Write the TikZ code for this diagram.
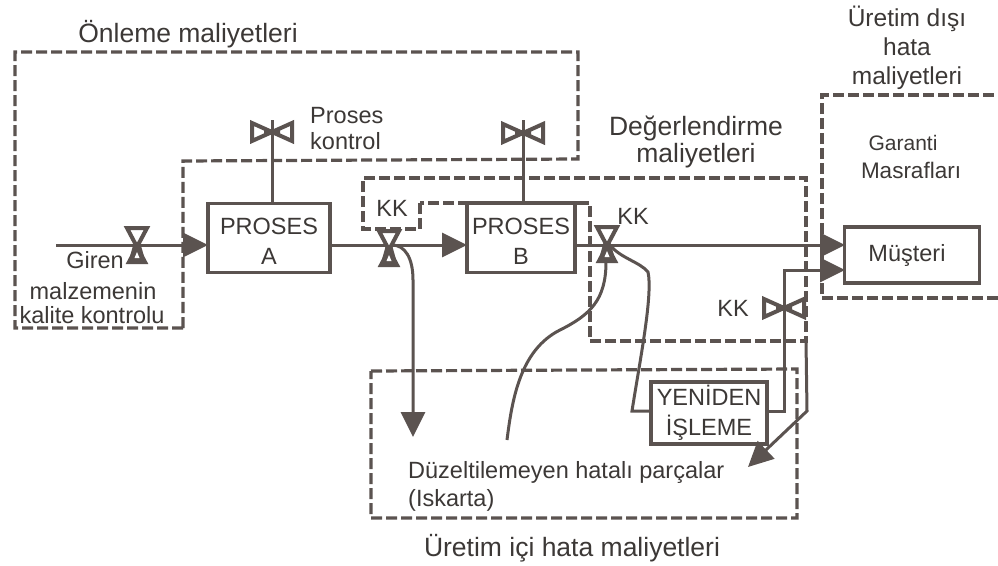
\documentclass[tikz,border=0pt]{standalone}
\usepackage{fontspec}
\setmainfont{Liberation Sans}
\usetikzlibrary{arrows.meta}
\definecolor{ink}{HTML}{5B5350}
\definecolor{txt}{HTML}{3C3836}
\tikzset{
  dashbox/.style={draw=ink,line width=3.2pt,dash pattern=on 11pt off 4pt},
  proc/.style={draw=ink,line width=3.2pt,fill=white,inner sep=0pt,align=center,text=txt,font=\fontsize{23.5}{30}\selectfont},
  wire/.style={draw=ink,line width=3pt},
  arr/.style={wire,-{Triangle[length=25pt,width=24pt]}},
  lbl/.style={text=txt,font=\fontsize{23.5}{27}\selectfont,inner sep=0pt,align=center},
  lblbig/.style={lbl,font=\fontsize{26.5}{27}\selectfont},
  vvalve/.pic={\draw[draw=ink,line width=4pt,fill=white,line join=miter] (-10,-17)--(10,-17)--(-8,17)--(8,17)--cycle;
    \fill[ink] (-3,-3) -- (3,-3) -- (8,15) -- (-8,15)--cycle;
    \fill[white] (0,7) -- (2.5,13) -- (-2.5,13)--cycle;},
  hvalve/.pic={\draw[draw=ink,line width=4pt,fill=white] (-20,-9)--(-20,9)--(20,-9)--(20,9)--cycle;
    \fill[ink] (-8,-5)--(8,5)--(8,-5)--(-8,5)--cycle;}
}
\begin{document}
\begin{tikzpicture}[x=1pt,y=-1pt]
\useasboundingbox (0,0) rectangle (998,565);
% dashed regions
\draw[dashbox] (183,328)--(15,328)--(15,52)--(578,52)--(578,159)--(183,161)--cycle;
\draw[dashbox] (420,203)--(420,229)--(363,229)--(363,178)--(806,178)--(806,341)--(590,341)--(590,203)--cycle;
\draw[dashbox] (371,371)--(797,369)--(797,518)--(371,518)--cycle;
\draw[dashbox] (998,298)--(822,298)--(822,95)--(998,95);
% process boxes
\node[proc,minimum width=122pt,minimum height=69pt] (A) at (269,238) {\rule{0pt}{23pt}PROSES\\A};
\node[proc,minimum width=108pt,minimum height=69pt] (B) at (521,238) {\rule{0pt}{23pt}PROSES\\B};
\node[proc,minimum width=135pt,minimum height=56pt] (M) at (912,255) {Müşteri\hspace*{10pt}};
\node[proc,minimum width=116pt,minimum height=62pt] (Y) at (709,413) {YENİDEN\\İŞLEME};
% anchors
\coordinate (in) at (56,245);
\coordinate (v1) at (137,245);
\coordinate (v2) at (389,248);
\coordinate (v3) at (607,244);
\coordinate (v4) at (784,308);
\coordinate (va) at (272,132);
\coordinate (vb) at (523,133);
\coordinate (ta) at (272,120);
\coordinate (tb) at (523,120);
\coordinate (mb) at (845,245);
\coordinate (mc) at (845,270);
\coordinate (ab) at (467,245);
\coordinate (ain) at (208,245);
\coordinate (sc) at (413,437);
\coordinate (sl) at (507,440);
\coordinate (tip) at (748,467);
% connectors
\draw[wire] (A.north -| ta) -- (ta);
\draw[wire] (B.north -| tb) -- (tb);
\draw[line width=3.4pt,draw=ink] (462,203)--(583,203);
\draw[arr] (in) -- (ain);
\draw[arr] (A.east |- ab) -- (ab);
\draw[arr] (B.east |- mb) -- (mb);
\draw[arr] (392,245) .. controls (405,245) and (413,258) .. (413,280) -- (sc);
\draw[wire] (610,245) .. controls (620,258) and (640,262) .. (648,272)
  .. controls (653,295) and (640,360) .. (632,411) -- (Y.west |- 0,411);
\draw[wire] (606,262) .. controls (606,300) and (590,315) .. (560,330)
  .. controls (520,350) and (512,400) .. (sl);
\draw[arr] (Y.east |- 0,411) -- (784,411) -- (784,270) -- (mc);
\draw[arr] (806,341) -- (807,411) -- (tip);
% valves
\pic at (v1) {vvalve};
\pic at (v2) {vvalve};
\pic at (v3) {vvalve};
\pic at (v4) {hvalve};
\pic at (va) {hvalve};
\pic at (vb) {hvalve};
% labels
\node[lblbig] (l1) at (188,34) {Önleme maliyetleri};
\node[lbl,font=\fontsize{24.5}{29}\selectfont] (l2) at (907,48) {Üretim dışı\\hata\\maliyetleri};
\node[lbl,align=left,anchor=west,font=\fontsize{23.5}{26}\selectfont] (l3) at (310,129) {Proses\\kontrol};
\node[lblbig] (l4) at (696,142) {Değerlendirme\\maliyetleri};
\node[lbl,font=\fontsize{21}{27}\selectfont] (l5a) at (903,143) {Garanti};
\node[lbl,font=\fontsize{22.5}{27}\selectfont] (l5b) at (911,170) {Masrafları};
\node[lbl] (l6) at (95,260) {Giren};
\node[lbl] (l7) at (93,291) {malzemenin};
\node[lbl] (l8) at (92,315) {kalite kontrolu};
\node[lbl] (k1) at (392,208) {KK};
\node[lbl] (k2) at (633,216) {KK};
\node[lbl] (k3) at (733,308) {KK};
\node[lbl,align=left,anchor=north west,font=\fontsize{23.5}{28}\selectfont] (l9) at (408,461) {Düzeltilemeyen hatalı parçalar\\(Iskarta)};
\node[lblbig] (l10) at (572,548) {Üretim içi hata maliyetleri};
\end{tikzpicture}
\end{document}
